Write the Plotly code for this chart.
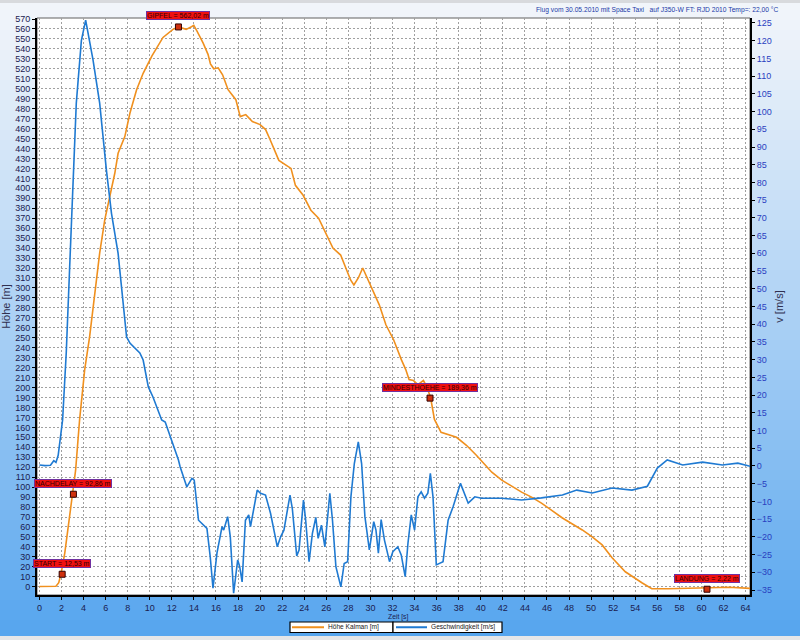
import plotly.graph_objects as go

# ---------------- data ----------------
hoehe_t = [0, 0.5, 1.0, 1.5, 1.75, 1.97, 2.3, 2.58, 2.85, 3.04, 3.28, 3.64, 4.1, 4.55, 5.0,
           5.46, 5.92, 6.38, 6.83, 7.13, 7.74, 8.2, 8.8, 9.4, 10.2, 11.2, 12.1, 12.6, 13.3,
           13.78, 13.99, 14.28, 14.83, 15.28, 15.5, 15.8, 16.2, 16.6, 17.1, 17.8, 18.2, 18.7,
           19.3, 20.0, 20.5, 20.9, 21.7, 22.8, 23.2, 23.9, 24.6, 25.3, 26.0, 26.6, 27.3, 27.8,
           28.2, 28.5, 28.9, 29.3, 30.0, 30.8, 31.4, 32.1, 32.8, 33.2, 33.5, 33.9, 34.3, 34.8,
           35.1, 35.45, 35.8, 36.4, 37.8, 38.7, 39.6, 41.0, 41.9, 42.8, 43.7, 44.6, 45.5, 46.4,
           47.4, 48.3, 49.2, 50.1, 51.0, 51.9, 53.1, 54.6, 55.5, 57.0, 59.0, 61.0, 62.5, 64.5]
hoehe_m = [0.3, 0.2, 0.3, 0.5, 4, 13.7, 34, 57, 78, 92.3, 117, 167.6, 217.8, 251.2, 291.3,
           334.9, 368.3, 391.7, 415.1, 435.2, 451.9, 475.4, 498.7, 515.5, 533, 551.5, 559.6, 562, 559.6,
           562.3, 563.6, 557.9, 546, 534.5, 525, 520, 521, 514, 499, 489, 472, 474,
           467, 464, 459, 449, 428, 420, 403, 393, 378, 370, 353, 340, 333, 318,
           308, 303, 310, 320, 303, 283, 263, 248, 228, 218, 208, 207, 203, 207,
           201, 190, 168, 155, 150, 142, 132, 115, 107, 101, 95, 90, 84, 77,
           69, 63, 57, 50, 42, 29, 15, 4, -2, -2, -1.3, -1.3, -0.5, -1.7]

geschw_t = [0, 0.5, 1.0, 1.3, 1.5, 1.7, 2.1, 2.43, 2.73, 2.98, 3.34, 3.8, 4.19, 4.86, 5.46,
            6.07, 6.53, 7.13, 7.59, 7.9, 8.2, 9.1, 9.4, 9.87, 10.3, 11.08, 11.4, 12.0, 12.6,
            12.75, 13.36, 13.82, 14.03, 14.42, 15.18, 15.48, 15.73, 16.09, 16.55, 16.7, 17.06,
            17.3, 17.6, 17.97, 18.15, 18.37, 18.67, 18.97, 19.13, 19.74, 20.04, 20.49, 20.95,
            21.56, 21.86, 22.16, 22.71, 22.92, 23.32, 23.53, 23.93, 24.13, 24.44, 24.74, 25.05,
            25.26, 25.56, 25.87, 26.32, 26.56, 26.87, 27.32, 27.62, 27.93, 28.23, 28.54, 28.9,
            29.2, 29.5, 29.9, 30.3, 30.5, 30.72, 30.97, 31.27, 31.73, 32.03, 32.48, 32.79,
            33.15, 33.4, 33.7, 34.0, 34.3, 34.6, 34.9, 35.2, 35.43, 35.67, 35.97, 36.27, 36.58,
            37.04, 37.49, 38.16, 38.86, 39.46, 40.07, 41.9, 43.7, 45.5, 47.4, 48.7, 50.1, 51.9,
            53.7, 55.1, 56.0, 56.9, 58.3, 60.1, 61.9, 63.3, 64.7]
geschw_v = [0.3, 0.1, 0.2, 1.5, 1.0, 3, 13, 31.9, 55.3, 75.9, 102.3, 120, 125.8, 114.5, 102.4,
            83.5, 71.3, 60, 46, 36.4, 34.7, 31.9, 29.9, 22.3, 19.4, 13, 12.4, 7.3, 1.7,
            -0.2, -5.9, -3.5, -4, -15.3, -17.6, -25.6, -34.5, -24.6, -17.1, -18.1, -14.3,
            -20, -35.9, -26.5, -28.4, -32.7, -15.3, -13.8, -17.1, -6.8, -7.7, -8.2, -13.4,
            -22.8, -20, -18.1, -8.2, -12, -25.4, -23.7, -9.6, -15.3, -27, -19, -14.5,
            -20.4, -16.7, -22.8, -7.7, -15.3, -28.4, -34.1, -27.5, -27, -8.7, 0.7, 6.8,
            0.7, -14.3, -23.7, -15.7, -18.1, -24.6, -15.1, -20.9, -27, -24.2, -22.8, -25.1,
            -31.2, -21.8, -13.8, -18.1, -8.7, -7.3, -9.1, -7.7, -2.1, -8.7, -27.9, -27.5, -27,
            -15.3, -11.5, -4.9, -10.5, -8.7, -9.1, -9.1, -9.6, -9, -8.2, -6.8, -7.6, -6.2,
            -6.8, -5.7, -0.6, 1.7, 0.3, 1.1, 0.3, 0.8, -0.3]

mark_labels = ["START = 12,53 m", "NACHDELAY = 92,86 m", "GIPFEL = 562,02 m",
               "MINDESTHOEHE = 189,36 m", "LANDUNG = 2,22 m"]
mark_t = [2.06, 3.08, 12.6, 35.4, 60.5]
mark_h = [12.53, 92.86, 562.02, 189.36, -2.5]

series_names = ["Höhe Kalman [m]", "Geschwindigkeit [m/s]"]
series_colors = ["#f0901e", "#1f7ad2"]

title_text = "Flug vom 30.05.2010 mit Space Taxi   auf J350-W FT: RJD 2010 Temp=: 22,00 °C"

# ---------------- figure ----------------
W, H = 800, 640
ML, MR, MT, MB = 37, 50, 18, 45
PW = W - ML - MR
PH = H - MT - MB
FONT = "Liberation Sans, Arial"


def px_x(p):
    return (p - ML) / PW


def px_y(p):
    return 1 - (p - MT) / PH


fig = go.Figure()

fig.add_trace(go.Scatter(x=hoehe_t, y=hoehe_m, mode="lines", name=series_names[0],
                         line=dict(color=series_colors[0], width=1.6), yaxis="y"))
fig.add_trace(go.Scatter(x=geschw_t, y=geschw_v, mode="lines", name=series_names[1],
                         line=dict(color=series_colors[1], width=1.6), yaxis="y2"))
fig.add_trace(go.Scatter(x=mark_t, y=mark_h, mode="markers", showlegend=False,
                         marker=dict(symbol="square", size=6, color="#d0300c",
                                     line=dict(color="#300000", width=1)), yaxis="y"))

for t, h, lab in zip(mark_t, mark_h, mark_labels):
    fig.add_annotation(x=t, y=h, xref="x", yref="y", text=lab, showarrow=False,
                       yshift=11, bgcolor="#f01010", bordercolor="#7030a0", borderwidth=1,
                       borderpad=0, font=dict(size=7, color="#300000", family=FONT))

# background gradient (paper coords)
shapes = []
nb = 64
for i in range(nb):
    p0 = i * H / nb
    p1 = (i + 1) * H / nb
    f = ((p0 + p1) / 2) / H
    f = f ** 1.15
    c0 = (242, 245, 250)
    c1 = (84, 164, 238)
    col = tuple(int(round(c0[k] + (c1[k] - c0[k]) * f)) for k in range(3))
    shapes.append(dict(type="rect", xref="paper", yref="paper", x0=px_x(0), x1=px_x(W),
                       y0=px_y(p1), y1=px_y(p0), fillcolor="rgb(%d,%d,%d)" % col,
                       line=dict(width=0), layer="below"))
# plot area white
shapes.append(dict(type="rect", xref="paper", yref="paper", x0=0, x1=1, y0=0, y1=1,
                   fillcolor="white", line=dict(color="#606060", width=1), layer="below"))
# window frame strips
shapes.append(dict(type="rect", xref="paper", yref="paper", x0=px_x(0), x1=px_x(W),
                   y0=px_y(3), y1=px_y(0), fillcolor="#d8dadd", line=dict(width=0), layer="below"))
shapes.append(dict(type="rect", xref="paper", yref="paper", x0=px_x(0), x1=px_x(W),
                   y0=px_y(H), y1=px_y(H - 4), fillcolor="#e4e6e8", line=dict(width=0),
                   layer="below"))

# custom legend (two boxed entries)
leg_boxes = [(290, 393), (393, 502)]
leg_lines = [(292, 324), (396, 427)]
leg_text_x = [326, 429]
ly0, ly1 = 622, 632.5
for (bx0, bx1), (lx0, lx1), tx, name, col in zip(leg_boxes, leg_lines, leg_text_x,
                                                  series_names, series_colors):
    shapes.append(dict(type="rect", xref="paper", yref="paper", x0=px_x(bx0), x1=px_x(bx1),
                       y0=px_y(ly1), y1=px_y(ly0), fillcolor="white",
                       line=dict(color="black", width=1.2), layer="above"))
    shapes.append(dict(type="line", xref="paper", yref="paper", x0=px_x(lx0), x1=px_x(lx1),
                       y0=px_y((ly0 + ly1) / 2), y1=px_y((ly0 + ly1) / 2),
                       line=dict(color=col, width=2), layer="above"))
    fig.add_annotation(x=px_x(tx), y=px_y((ly0 + ly1) / 2), xref="paper", yref="paper",
                       text=name, showarrow=False, xanchor="left", yanchor="middle",
                       font=dict(size=6.6, color="#202020", family=FONT))

fig.add_annotation(x=px_x(781), y=px_y(10), xref="paper", yref="paper",
                   text=title_text, showarrow=False, xanchor="right", yanchor="middle",
                   font=dict(size=6.7, color="#1a3aa8", family=FONT))

fig.add_annotation(x=px_x(398), y=px_y(617.5), xref="paper", yref="paper",
                   text="Zeit [s]", showarrow=False, xanchor="center", yanchor="middle",
                   font=dict(size=6.8, color="#1a2050", family=FONT))

fig.update_layout(
    width=W, height=H,
    margin=dict(l=ML, r=MR, t=MT, b=MB, autoexpand=False),
    paper_bgcolor="white", plot_bgcolor="white",
    shapes=shapes,
    showlegend=False,
    xaxis=dict(range=[-0.22, 64.4], dtick=2, tick0=0, showgrid=True, gridcolor="#a0a0a0",
               griddash="2px,2px", gridwidth=1, zeroline=False, showline=True,
               linecolor="black", linewidth=2, ticks="outside", ticklen=3, tickcolor="black",
               tickfont=dict(size=9, color="#1a2050", family=FONT), automargin=False),
    yaxis=dict(range=[-8.3, 571], dtick=10, tick0=0, showgrid=True, gridcolor="#a0a0a0",
               griddash="2px,2px", gridwidth=1, zeroline=False, showline=True,
               linecolor="black", linewidth=2, ticks="outside", ticklen=3, tickcolor="black",
               tickfont=dict(size=9, color="#1a2050", family=FONT), automargin=False,
               title=dict(text="Höhe [m]", standoff=2,
                          font=dict(size=11, color="#303050", family=FONT))),
    yaxis2=dict(range=[-36.4, 126.4], dtick=5, tick0=0, overlaying="y", side="right",
                showgrid=False, zeroline=False, showline=True, linecolor="black", linewidth=2,
                ticks="outside", ticklen=3, tickcolor="black", automargin=False,
                tickfont=dict(size=9, color="#2a40c0", family=FONT),
                title=dict(text="v [m/s]", standoff=4,
                           font=dict(size=11, color="#303050", family=FONT))),
)

fig.write_html("out.html", config={"displayModeBar": False},
               post_script="document.body.style.margin='0';document.body.style.overflow='hidden';")
